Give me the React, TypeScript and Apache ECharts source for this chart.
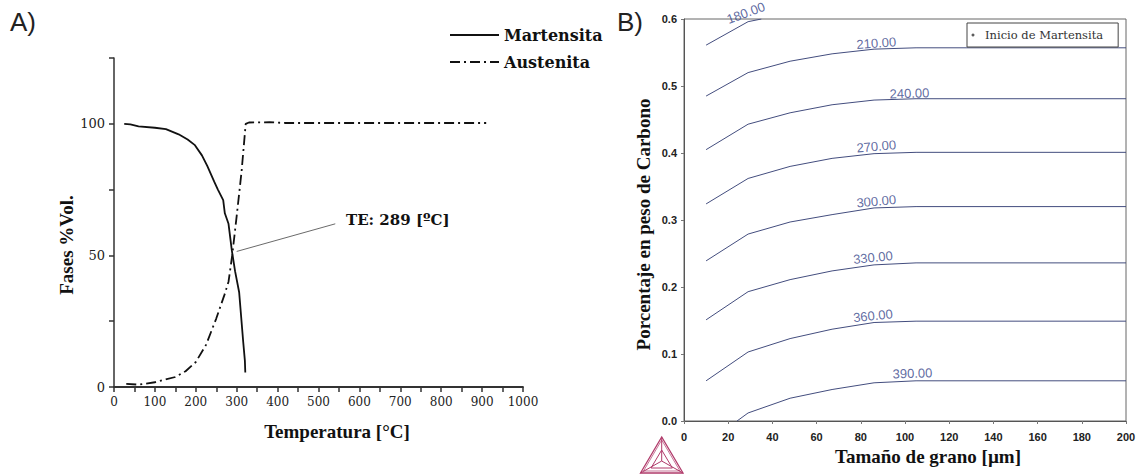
import React, { useEffect, useRef } from "react";
import * as echarts from "echarts";

// ---- Panel A: phase fractions vs temperature ----
const martTemp = [25, 40, 60, 100, 127, 158, 180, 197, 215, 228, 245, 254, 267, 271, 280, 288, 296, 306, 316, 320, 321];
const martVol = [100, 99.8, 99, 98.5, 98, 96, 94, 92, 88, 84, 78, 75, 71, 66, 62, 52, 44, 36, 17, 10, 5.5];
const austTemp = [30, 60, 100, 150, 175, 200, 225, 250, 270, 280, 289, 300, 312, 322, 330, 380, 420, 910];
const austVol = [1.2, 0.9, 1.8, 3.8, 6, 9.5, 16, 26, 35, 40, 50, 65, 82, 100, 100.5, 100.6, 100.3, 100.3];
const leftYLabels = [0, 50, 100];
const teText = "TE: 289 [ºC]";
const teArrowFrom = [541, 62];
const teArrowTo = [300, 51.5];

// ---- Panel B: martensite start contours ----
const gridX = [10, 29, 48, 67, 86, 105, 200];
const c180X = [10, 29, 35];
const c180Y = [0.561, 0.596, 0.6];
const c210Y = [0.485, 0.52, 0.537, 0.548, 0.555, 0.557, 0.557];
const c240Y = [0.405, 0.443, 0.46, 0.472, 0.479, 0.481, 0.481];
const c270Y = [0.324, 0.362, 0.38, 0.392, 0.399, 0.401, 0.401];
const c300Y = [0.239, 0.279, 0.297, 0.308, 0.318, 0.32, 0.32];
const c330Y = [0.151, 0.193, 0.211, 0.224, 0.233, 0.236, 0.236];
const c360Y = [0.06, 0.103, 0.123, 0.137, 0.147, 0.149, 0.149];
const c390X = [24, 29, 48, 67, 86, 105, 200];
const c390Y = [0, 0.012, 0.034, 0.047, 0.057, 0.06, 0.06];
const contourLevels = ["180.00", "210.00", "240.00", "270.00", "300.00", "330.00", "360.00", "390.00"];
const labelX = [28, 87, 102, 87, 87, 85.5, 85.5, 103.4];
const labelY = [0.609, 0.564, 0.489, 0.41, 0.328, 0.244, 0.157, 0.071];
const labelRot = [20, 4, 2, 5, 5, 6, 6, 2];

const zip = (xs: number[], ys: number[]) => xs.map((x, i) => [x, ys[i]]);

const serifBold = "'Liberation Serif', 'Times New Roman', serif";
const dejaSerif = "'DejaVu Serif', serif";
const sans = "'Liberation Sans', Arial, sans-serif";
const contourColor = "#434d7e";
const contourLabelColor = "#37468a";

const contourSeries = [
  zip(c180X, c180Y),
  zip(gridX, c210Y),
  zip(gridX, c240Y),
  zip(gridX, c270Y),
  zip(gridX, c300Y),
  zip(gridX, c330Y),
  zip(gridX, c360Y),
  zip(c390X, c390Y),
].map((data, i) => ({
  name: "Ms " + contourLevels[i],
  type: "line",
  xAxisIndex: 1,
  yAxisIndex: 1,
  data,
  symbol: "none",
  silent: true,
  lineStyle: { color: contourColor, width: 1 },
}));

const option: any = {
  animation: false,
  backgroundColor: "#ffffff",
  grid: [
    { left: 114, top: 58, width: 409, height: 329 },
    { left: 684, top: 19, width: 442, height: 402, show: true, borderColor: "#666", borderWidth: 1, backgroundColor: "transparent" },
  ],
  legend: [
    {
      data: ["Martensita", "Austenita"],
      orient: "vertical",
      left: 449,
      top: 27,
      padding: 0,
      itemWidth: 49,
      itemHeight: 14,
      itemGap: 11,
      selectedMode: false,
      itemStyle: { opacity: 0 },
      textStyle: { fontFamily: dejaSerif, fontWeight: "bold", fontSize: 16, color: "#111" },
    },
    {
      data: ["Inicio de Martensita"],
      left: 967,
      top: 23,
      padding: [6, 15, 6, 4.5],
      borderColor: "#444",
      borderWidth: 1,
      itemWidth: 14,
      itemHeight: 3,
      icon: "circle",
      selectedMode: false,
      textStyle: { fontFamily: dejaSerif, fontSize: 11.5, color: "#333" },
    },
  ],
  xAxis: [
    {
      type: "value",
      gridIndex: 0,
      min: 0,
      max: 1000,
      interval: 50,
      name: "Temperatura [°C]",
      nameLocation: "middle",
      nameGap: 35,
      nameTextStyle: { fontFamily: serifBold, fontWeight: "bold", fontSize: 19, color: "#111", padding: [0, 0, 0, 37] },
      axisLine: { show: true, lineStyle: { color: "#333", width: 1.8 } },
      axisTick: { show: true, length: 5, lineStyle: { color: "#333", width: 1.5 } },
      axisLabel: {
        margin: 9,
        fontFamily: dejaSerif,
        fontSize: 12,
        color: "#222",
        formatter: (v: number) => (v % 100 === 0 ? String(v) : ""),
      },
      splitLine: { show: false },
    },
    {
      type: "value",
      gridIndex: 1,
      min: 0,
      max: 200,
      interval: 20,
      name: "Tamaño de grano [µm]",
      nameLocation: "middle",
      nameGap: 21,
      nameTextStyle: { fontFamily: serifBold, fontWeight: "bold", fontSize: 19, color: "#111", padding: [0, 0, 0, 46] },
      axisLine: { show: true, lineStyle: { color: "#555", width: 1 } },
      axisTick: { show: true, length: 3, lineStyle: { color: "#777" } },
      axisLabel: { margin: 10, fontFamily: sans, fontWeight: "bold", fontSize: 11, color: "#222" },
      splitLine: { show: false },
    },
  ],
  yAxis: [
    {
      type: "value",
      gridIndex: 0,
      min: 0,
      max: 125,
      interval: 25,
      name: "Fases %Vol.",
      nameLocation: "middle",
      nameGap: 30,
      nameTextStyle: { fontFamily: serifBold, fontWeight: "bold", fontSize: 19, color: "#111", padding: [0, 45, 0, 0] },
      axisLine: { show: true, lineStyle: { color: "#333", width: 1.5 } },
      axisTick: { show: true, length: 5, lineStyle: { color: "#333", width: 1.5 } },
      axisLabel: {
        margin: 9,
        fontFamily: dejaSerif,
        fontSize: 13,
        color: "#222",
        formatter: (v: number) => (leftYLabels.includes(v) ? String(v) : ""),
      },
      splitLine: { show: false },
    },
    {
      type: "value",
      gridIndex: 1,
      min: 0,
      max: 0.6,
      interval: 0.1,
      name: "Porcentaje en peso de Carbono",
      nameLocation: "middle",
      nameGap: 31,
      nameTextStyle: { fontFamily: serifBold, fontWeight: "bold", fontSize: 19, color: "#111", padding: [0, 9, 0, 0] },
      axisLine: { show: true, lineStyle: { color: "#555", width: 1 } },
      axisTick: { show: true, length: 3, lineStyle: { color: "#777" } },
      axisLabel: {
        margin: 7,
        fontFamily: sans,
        fontWeight: "bold",
        fontSize: 11,
        color: "#222",
        formatter: (v: number) => v.toFixed(1),
      },
      splitLine: { show: false },
    },
  ],
  series: [
    {
      name: "Martensita",
      type: "line",
      xAxisIndex: 0,
      yAxisIndex: 0,
      data: zip(martTemp, martVol),
      symbol: "none",
      lineStyle: { color: "#111", width: 1.8, type: "solid" },
      itemStyle: { color: "#111" },
      markLine: {
        silent: true,
        symbol: ["none", "arrow"],
        symbolSize: [0, 10],
        label: { show: false },
        lineStyle: { color: "#444", width: 0.8, type: "solid" },
        data: [[{ coord: teArrowFrom }, { coord: teArrowTo }]],
      },
    },
    {
      name: "Austenita",
      type: "line",
      xAxisIndex: 0,
      yAxisIndex: 0,
      data: zip(austTemp, austVol),
      symbol: "none",
      lineStyle: { color: "#111", width: 1.8, type: [10, 4, 2, 4] },
      itemStyle: { color: "#111" },
    },
    ...contourSeries,
    {
      name: "contour labels",
      type: "scatter",
      xAxisIndex: 1,
      yAxisIndex: 1,
      symbolSize: 0,
      clip: false,
      silent: true,
      data: contourLevels.map((t, i) => ({ name: t, value: [labelX[i], labelY[i]], label: { rotate: labelRot[i] } })),
      label: {
        show: true,
        position: "inside",
        formatter: (p: any) => p.name,
        fontFamily: sans,
        fontSize: 13,
        color: contourLabelColor,
      },
    },
    {
      name: "Inicio de Martensita",
      type: "scatter",
      xAxisIndex: 1,
      yAxisIndex: 1,
      data: [],
      itemStyle: { color: "#333" },
    },
  ],
  graphic: [
    { type: "text", left: 10, top: 9, style: { text: "A)", font: "26px 'Liberation Sans', Arial, sans-serif", fill: "#222" } },
    { type: "text", left: 617, top: 9, style: { text: "B)", font: "26px 'Liberation Sans', Arial, sans-serif", fill: "#222" } },
    {
      type: "text",
      x: 346,
      y: 220,
      style: { text: teText, font: "bold 15px 'DejaVu Serif', serif", fill: "#111", verticalAlign: "middle", align: "left" },
    },
    {
      type: "group",
      children: [
        { type: "polygon", shape: { points: [[661.7, 437], [640.5, 473], [683, 473]] }, style: { fill: "none", stroke: "#b03a6a", lineWidth: 1.3 } },
        { type: "polygon", shape: { points: [[661.7, 440], [643.5, 471], [680, 471]] }, style: { fill: "none", stroke: "#b03a6a", lineWidth: 0.7 } },
        { type: "polygon", shape: { points: [[661.7, 450], [651, 468], [672.4, 468]] }, style: { fill: "none", stroke: "#b03a6a", lineWidth: 1 } },
        { type: "line", shape: { x1: 661.7, y1: 437, x2: 661.7, y2: 461 }, style: { stroke: "#b03a6a", lineWidth: 1 } },
        { type: "line", shape: { x1: 640.5, y1: 473, x2: 661.7, y2: 461 }, style: { stroke: "#b03a6a", lineWidth: 1 } },
        { type: "line", shape: { x1: 683, y1: 473, x2: 661.7, y2: 461 }, style: { stroke: "#b03a6a", lineWidth: 1 } },
      ],
    },
  ],
};

export default function App() {
  const ref = useRef<HTMLDivElement>(null);
  useEffect(() => {
    const chart = echarts.init(ref.current!, undefined, { renderer: "svg" });
    chart.setOption(option);
    return () => chart.dispose();
  }, []);
  return (
    <div
      ref={ref}
      style={{ position: "fixed", left: 0, top: 0, width: 1141, height: 474, background: "#fff" }}
    />
  );
}
